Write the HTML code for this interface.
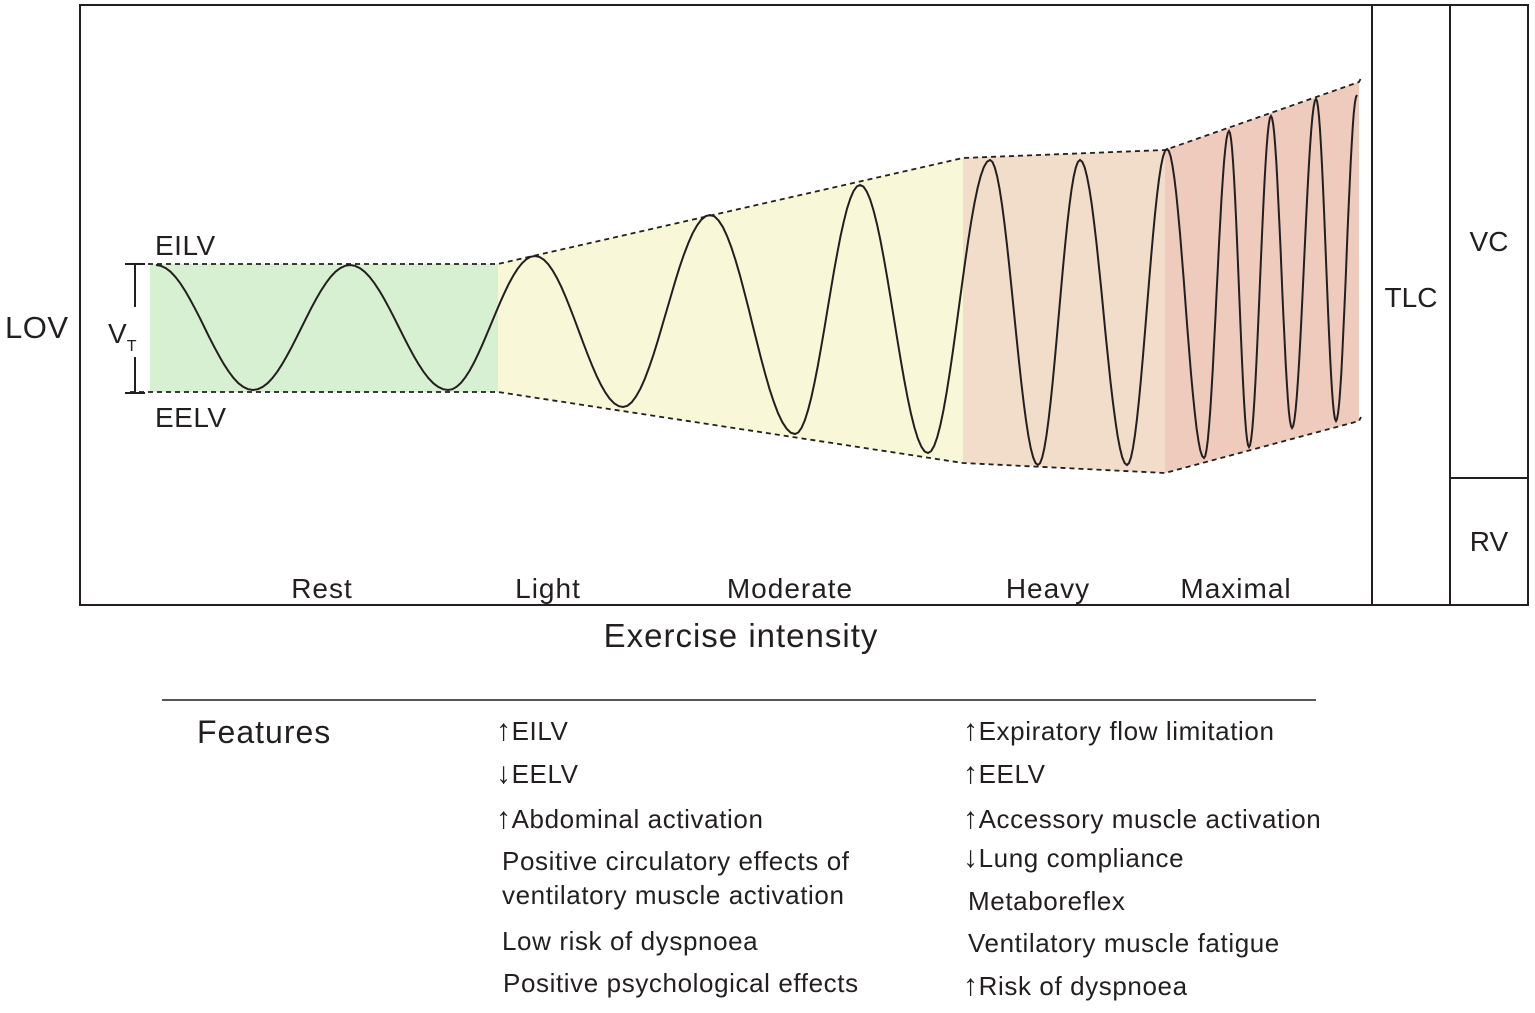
<!DOCTYPE html>
<html><head><meta charset="utf-8"><style>
html,body{margin:0;padding:0;background:#fff;}
body{width:1535px;height:1008px;overflow:hidden;font-family:"Liberation Sans",sans-serif;}
svg text{font-family:"Liberation Sans",sans-serif;fill:#231f20;}
.ar{font-size:30px;}
</style></head><body>
<svg width="1535" height="1008" viewBox="0 0 1535 1008">
<g id="regions"></g>
<g id="dashes"></g>
<path id="wave" fill="none" stroke="#231f20" stroke-width="2"/>
<rect x="80" y="5" width="1292" height="600" fill="none" stroke="#231f20" stroke-width="2"/>
<rect x="1372" y="5" width="78" height="600" fill="none" stroke="#231f20" stroke-width="2"/>
<rect x="1450" y="5" width="78" height="600" fill="none" stroke="#231f20" stroke-width="2"/>
<line x1="1450" y1="478" x2="1528" y2="478" stroke="#231f20" stroke-width="2"/>
<text x="1411" y="307" font-size="28" text-anchor="middle">TLC</text>
<text x="1489" y="251" font-size="28" text-anchor="middle">VC</text>
<text x="1489" y="551" font-size="28" text-anchor="middle">RV</text>
<text x="5" y="338" font-size="31" letter-spacing="0.5">LOV</text>
<text x="155" y="255" font-size="28" letter-spacing="0.5">EILV</text>
<text x="155" y="427" font-size="28" letter-spacing="0.5">EELV</text>
<g stroke="#231f20" stroke-width="2">
<line x1="125" y1="264" x2="145" y2="264"/><line x1="135" y1="264" x2="135" y2="307"/>
<line x1="135" y1="357" x2="135" y2="393"/><line x1="125" y1="393" x2="145" y2="393"/></g>
<text x="108" y="343" font-size="28">V<tspan font-size="16" dy="8">T</tspan></text>
<g font-size="28" letter-spacing="1" text-anchor="middle">
<text x="322" y="598">Rest</text>
<text x="548" y="598">Light</text>
<text x="790" y="598">Moderate</text>
<text x="1048" y="598">Heavy</text>
<text x="1236" y="598">Maximal</text>
</g>
<text x="741" y="647" font-size="33" letter-spacing="1" text-anchor="middle">Exercise intensity</text>
<line x1="162" y1="700" x2="1316" y2="700" stroke="#231f20" stroke-width="1.5"/>
<text x="197" y="743" font-size="32" letter-spacing="1">Features</text>
<g font-size="26" letter-spacing="0.6">
<text x="496" y="740"><tspan class="ar">↑</tspan>EILV</text>
<text x="496" y="783"><tspan class="ar">↓</tspan>EELV</text>
<text x="496" y="828"><tspan class="ar">↑</tspan>Abdominal activation</text>
<text x="502" y="870">Positive circulatory effects of</text>
<text x="502" y="904">ventilatory muscle activation</text>
<text x="502" y="950">Low risk of dyspnoea</text>
<text x="503" y="992">Positive psychological effects</text>
</g>
<g font-size="26" letter-spacing="0.6">
<text x="963" y="740"><tspan class="ar">↑</tspan>Expiratory flow limitation</text>
<text x="963" y="783"><tspan class="ar">↑</tspan>EELV</text>
<text x="963" y="828"><tspan class="ar">↑</tspan>Accessory muscle activation</text>
<text x="963" y="867"><tspan class="ar">↓</tspan>Lung compliance</text>
<text x="968" y="910">Metaboreflex</text>
<text x="968" y="952">Ventilatory muscle fatigue</text>
<text x="963" y="995"><tspan class="ar">↑</tspan>Risk of dyspnoea</text>
</g>
</svg>
<script>
// Envelope (EILV top, EELV bottom) at stage boundaries
const boundX = [150, 498, 963, 1165, 1359];
const eilv = [264, 264, 158, 150, 82];
const eelv = [392, 392, 463, 473, 421];
const stageColors = ['#d8f0d2', '#f8f7d8', '#f2dcca', '#efcbbd'];
// Breathing wave extrema
const waveX = [156,253,350,448,535,623,710,795,860,928,990,1038,1080,1127,1167,1204,1229,1249,1271,1292,1316,1336,1357];
const waveY = [265,390,265,390,256,407,215,434,185,453,160,465,160,465,149,458,131,447,116,428,99,421,95];
const NS='http://www.w3.org/2000/svg';
const reg=document.getElementById('regions'), dg=document.getElementById('dashes');
for(let i=0;i<boundX.length-1;i++){
  const p=document.createElementNS(NS,'polygon');
  let a=i,b=i+1;
  if(i===1){b=2;}
  if(i===2){a=2;b=3;}
  p.setAttribute('points',[boundX[a]+','+eilv[a],boundX[b]+','+eilv[b],boundX[b]+','+eelv[b],boundX[a]+','+eelv[a]].join(' '));
  p.setAttribute('fill',stageColors[i]);
  
  
  reg.appendChild(p);
}
function dashLine(arr,name){
  const pl=document.createElementNS(NS,'polyline');
  let pts=['130,'+arr[0]];
  for(let k=1;k<boundX.length;k++)pts.push(boundX[k]+','+arr[k]);
  const n=arr.length-1;
  pts.push((boundX[n]+2)+','+(arr[n]+(arr[n]<arr[n-1]?-4:-2)));
  pl.setAttribute('points',pts.join(' '));
  pl.setAttribute('fill','none');pl.setAttribute('stroke','#231f20');
  pl.setAttribute('stroke-width','1.8');pl.setAttribute('stroke-dasharray','5,4');
  
  
  dg.appendChild(pl);
}
dashLine(eilv,'eilv-line');dashLine(eelv,'eelv-line');
let d='M'+waveX[0]+' '+waveY[0];
for(let i=1;i<waveX.length;i++){
  const x0=waveX[i-1],y0=waveY[i-1],x1=waveX[i],y1=waveY[i];
  for(let s=1;s<=20;s++){const t=s/20;const x=x0+(x1-x0)*t;const y=y0+(y1-y0)*(1-Math.cos(Math.PI*t))/2;d+=' L'+x.toFixed(1)+' '+y.toFixed(1);}
}
document.getElementById('wave').setAttribute('d',d);
</script>
</body></html>
